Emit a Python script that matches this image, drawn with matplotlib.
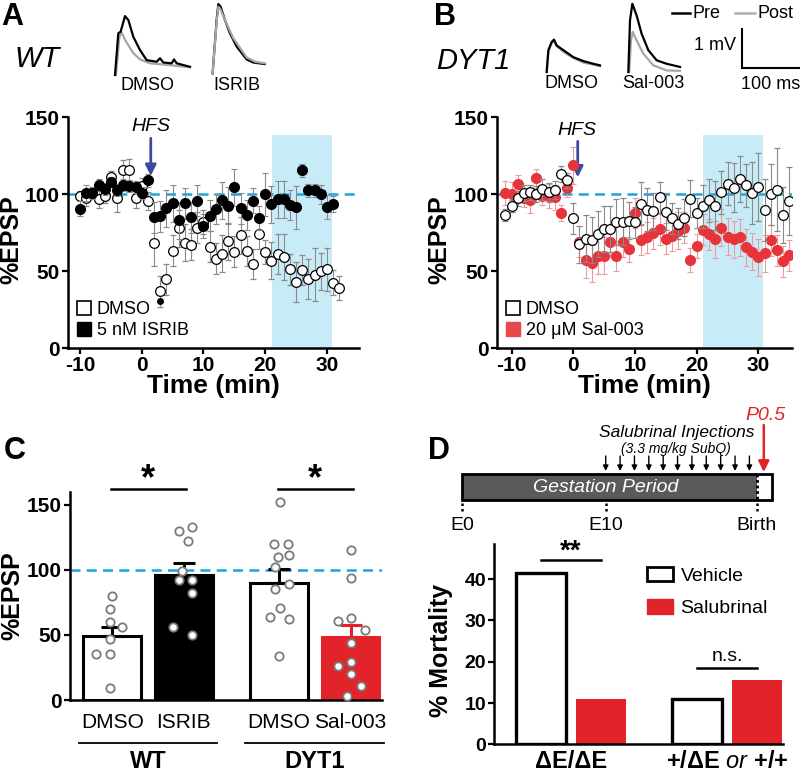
import numpy as np
import matplotlib.pyplot as plt
from matplotlib.lines import Line2D
from matplotlib.patches import Patch, Rectangle

plt.rcParams['font.family'] = ['Liberation Sans', 'DejaVu Sans']
plt.rcParams['axes.unicode_minus'] = False
plt.rcParams['mathtext.fontset'] = 'custom'
plt.rcParams['mathtext.rm'] = 'Liberation Sans'
plt.rcParams['mathtext.it'] = 'Liberation Sans:italic'
plt.rcParams['mathtext.bf'] = 'Liberation Sans:bold'

# ---------------- data ----------------
# Panel A (WT): time course, %EPSP
a_dmso_t = np.arange(-10, 33)
a_dmso_v = [98.8, 97.1, 100.6, 96.7, 99, 111, 97.1, 115.3, 115.7, 97.1,
            105.3, 95.4, 68.5, 36.8, 44.6, 63.3, 77.6, 68.5, 67.2, 78,
            81.9, 65.9, 58.1, 61.1, 69.4, 62.6, 73.3, 63, 54.6, 74.1,
            62.4, 56.8, 61.1, 59, 51.1, 42.9, 50.7, 44.6, 47.7, 49.8,
            51.1, 42.5, 39]
a_dmso_err = [3, 5, 4, 6, 5, 4, 9, 7, 7, 6, 5, 6, 15, 10, 10, 10, 12, 12, 10, 10,
              8, 10, 10, 12, 12, 10, 12, 10, 10, 10, 8, 12, 13, 15, 10, 13, 10, 13,
              17, 12, 14, 8, 8]
a_isrib_t = np.arange(-10, 32)
a_isrib_v = [90.4, 100.6, 100.6, 105.8, 103.2, 108, 102.7, 105.8, 105.3, 104.5,
             100.6, 108.8, 85, 85.4, 90.6, 94, 82.8, 94, 85, 95.6,
             79.3, 85.8, 90.2, 96, 92.3, 104.3, 90.8, 86.3, 95.6, 84.3,
             99.7, 93.4, 96.7, 96.7, 92.8, 91.5, 115.3, 102.3, 102.3, 99.7,
             91.5, 93.6]
a_isrib_err = [5, 5, 4, 4, 4, 3, 4, 4, 4, 4, 4, 4, 10, 10, 12, 12, 12, 10, 10, 10,
               8, 10, 10, 12, 12, 12, 10, 10, 8, 8, 14, 12, 12, 12, 10, 14, 4, 4,
               4, 6, 8, 5]
a_isrib_extra_t = [3]
a_isrib_extra_v = [30.5]

# Panel B (DYT1)
b_t = np.arange(-11, 36)
b_sal_v = [100.6, 100, 106.6, 97.3, 95.8, 110.1, 98.8, 98.8, 97.8, 87.6, 103.8, 118.6,
           69.1, 57.2, 55.1, 59.8, 59.8, 69.1, 59.8, 69.1, 64.1, 87.6,
           70.2, 72, 74.6, 77.2, 71.1, 72.9, 76.1, 78.2, 57.2, 66.3,
           76.7, 73.9, 70.6, 78.2, 72.4, 70.6, 72, 65.5, 62.4, 58.8,
           61.6, 69.9, 63.4, 56.2, 60.3]
b_sal_err = [8, 8, 6, 6, 8, 6, 6, 8, 8, 5, 6, 12, 10, 12, 12, 12, 12, 10, 10, 10, 8, 10,
             10, 10, 10, 10, 10, 10, 12, 10, 8, 8, 10, 10, 12, 12, 12, 12, 12, 12, 12, 12,
             12, 10, 10, 10, 10]
b_dmso_v = [86.3, 92.3, 97.1, 100.6, 101, 100, 103, 101, 102.7, 113, 108.8, 84.3,
            67.4, 71.1, 70.2, 74.1, 77.2, 77.2, 81.9, 82.1, 82.6, 81.5,
            93.6, 89.7, 88.9, 97.8, 88.4, 84.1, 80.6, 84.7, 96.9, 87.6,
            91.9, 95.8, 92.3, 101, 106.6, 104, 109.9, 105.6, 100.6, 104.5,
            89.7, 99.7, 102.7, 86.3, 95.4]
b_dmso_err = [4, 4, 5, 5, 5, 5, 7, 6, 6, 5, 5, 10, 12, 15, 15, 15, 15, 15, 15, 15, 12, 10,
              14, 14, 12, 10, 12, 10, 10, 12, 12, 10, 14, 14, 16, 14, 14, 16, 15, 14, 20, 22,
              20, 20, 27, 18, 22]
shade_window = (21.1, 30.8)

# Traces (ms, mV)
wt_dmso_pre_ms = [0, 5.7, 9.7, 17.2, 22.9, 31.5, 43, 54.5, 71.7, 77.4, 83.1, 97.5, 101.5, 106, 129]
wt_dmso_pre_mv = [0, 1.07, 1.11, 1.51, 1.41, 0.98, 0.64, 0.38, 0.34, 0.43, 0.32, 0.30, 0.40, 0.30, 0.21]
wt_dmso_post_ms = [1.7, 7.5, 11.5, 17.2, 31.5, 43, 60.2, 88.9, 129]
wt_dmso_post_mv = [0, 0.98, 1.09, 0.90, 0.56, 0.40, 0.30, 0.26, 0.20]
wt_isrib_pre_ms = [1.7, 8.6, 11.5, 15.5, 22.9, 31.5, 43, 60.2, 71.7, 91.7]
wt_isrib_pre_mv = [0.04, 1.41, 1.82, 1.75, 1.41, 1.07, 0.73, 0.40, 0.32, 0.28]
wt_isrib_post_ms = [1.7, 8.6, 11.5, 15.5, 22.9, 37, 60.2, 75, 91.7]
wt_isrib_post_mv = [0.04, 1.35, 1.75, 1.68, 1.41, 0.95, 0.45, 0.34, 0.30]
dyt_dmso_pre_ms = [0, 2.9, 8.6, 12.6, 17.2, 28.7, 45.9, 63.1, 80.3, 91.7]
dyt_dmso_pre_mv = [0, 0.56, 0.77, 0.83, 0.68, 0.56, 0.38, 0.28, 0.21, 0.17]
dyt_dmso_post_mv = [0, 0.52, 0.74, 0.80, 0.66, 0.52, 0.36, 0.24, 0.19, 0.15]
dyt_sal_pre_ms = [0, 2.9, 6.9, 14.3, 22.9, 34.4, 48.7, 66, 88.9]
dyt_sal_pre_mv = [0, 1.32, 1.75, 1.45, 0.98, 0.56, 0.30, 0.21, 0.13]
dyt_sal_post_ms = [1.7, 4.6, 7.5, 14.3, 25.8, 43, 66, 88.9]
dyt_sal_post_mv = [0, 0.81, 1.03, 0.81, 0.47, 0.17, 0.04, 0.03]

# Panel C: bars with individual slices
c_labels = ['DMSO', 'ISRIB', 'DMSO', 'Sal-003']
c_groups = ['WT', 'DYT1']
c_means = [49.5, 96.2, 89.8, 48.5]
c_sem = [6.5, 8.8, 11.2, 8.9]
c_pts = [[80, 70, 60, 56, 47, 35, 35, 9],
         [130, 133, 122, 99, 92, 92, 82, 56, 50],
         [152, 120, 120, 110, 111, 102, 85, 89, 64, 71, 62, 34],
         [115, 94, 61, 63, 54, 44, 26, 29, 20, 11, 3]]
c_jit = [[0, -0.03, -0.03, 0.14, -0.03, -0.22, -0.03, -0.03],
         [-0.07, 0.12, 0.06, -0.02, -0.06, 0.12, 0.12, -0.15, 0.12],
         [0.01, -0.07, 0.13, -0.01, 0.14, -0.05, -0.05, 0.14, -0.12, 0.01, 0.14, 0],
         [0.01, 0.01, -0.18, 0.01, 0.2, 0.01, -0.18, 0.01, 0.01, 0.14, -0.05]]

# Panel D: mortality
d_groups = ['ΔE/ΔE', r'$\mathbf{{+}/ΔE}\ \mathit{or}\ \mathbf{{+}/{+}}$']
d_vehicle = [41.4, 10.9]
d_salubrinal = [10.9, 15.6]
inj_days = [10, 11, 12, 13, 14, 15, 16, 17, 18, 19, 20]
timeline_marks = [0, 10, 20.5]
timeline_labels = ['E0', 'E10', 'Birth']
birth_day = 20.5
p05_day = 21.0

# ---------------- style ----------------
RED = '#e3232a'
RED_PT = '#e6343a'
RED_ERR = '#eb9ca0'
BLUE_DASH = '#1fa3dc'
SHADE = '#c8ebf8'
ARROW = '#3a4b9f'
GRAY_ERR = '#8a8a8a'

W, H = 800, 772
fig = plt.figure(figsize=(8, 7.72), dpi=100)


def add_ax(l, t, r, b):
    return fig.add_axes([l / W, 1 - b / H, (r - l) / W, (b - t) / H])


def ftext(x, y, s, **kw):
    fig.text(x / W, 1 - y / H, s, **kw)


def style_axes(ax, fs=15):
    ax.spines[['top', 'right']].set_visible(False)
    for s in ['left', 'bottom']:
        ax.spines[s].set_linewidth(1.8)
    ax.tick_params(width=1.6, length=4, labelsize=fs, pad=2)
    for lab in ax.get_xticklabels() + ax.get_yticklabels():
        lab.set_fontweight('bold')


# ---------------- panels A / B time course ----------------
def time_panel(ax, xlim, ylab_x):
    ax.axvspan(*shade_window, ymax=138 / 150, color=SHADE, lw=0, zorder=0)
    ax.axhline(100, color=BLUE_DASH, lw=1.8, dashes=(4, 2.5), zorder=1)
    ax.set_xlim(*xlim)
    ax.set_ylim(0, 150)
    ax.set_xticks([-10, 0, 10, 20, 30])
    ax.set_yticks([0, 50, 100, 150])
    style_axes(ax)
    ax.set_xlabel('Time (min)', fontsize=19, fontweight='bold', labelpad=-1)
    ax.set_ylabel('%EPSP', fontsize=18, fontweight='bold')
    ax.yaxis.set_label_coords(ylab_x, 0.47)


axA = add_ax(68, 117, 359, 348)
time_panel(axA, (-11.95, 35.2), -0.155)
axA.errorbar(a_dmso_t, a_dmso_v, yerr=a_dmso_err, fmt='o', ms=7, mfc='white', mec='black',
             mew=0.9, ecolor=GRAY_ERR, elinewidth=0.8, capsize=2, capthick=0.8, zorder=3)
axA.errorbar(a_isrib_t, a_isrib_v, yerr=a_isrib_err, fmt='o', ms=7, mfc='black', mec='black',
             ecolor=GRAY_ERR, elinewidth=0.8, capsize=2, capthick=0.8, zorder=4)
axA.plot(a_isrib_extra_t, a_isrib_extra_v, 'o', ms=4, color='black', zorder=4)
axA.annotate('', xy=(1.46, 110), xytext=(1.46, 138),
             arrowprops=dict(arrowstyle='-|>', color=ARROW, lw=2, mutation_scale=16))
axA.text(1.46, 144, 'HFS', fontsize=14, style='italic', ha='center', va='center')
axA.legend([Line2D([], [], marker='s', ls='none', ms=10, mfc='white', mec='black', mew=1.2),
            Line2D([], [], marker='s', ls='none', ms=10, mfc='black', mec='black')],
           ['DMSO', '5 nM ISRIB'], loc='lower left', bbox_to_anchor=(0.0, 0.0), frameon=False,
           fontsize=13, handlelength=0.8, handletextpad=0.3, labelspacing=0.2,
           borderaxespad=0.3, borderpad=0.2)

axB = add_ax(496.7, 117, 792, 348)
time_panel(axB, (-12.4, 35.45), -0.153)
axB.errorbar(b_t, b_sal_v, yerr=b_sal_err, fmt='o', ms=7, mfc=RED_PT, mec=RED_PT,
             ecolor=RED_ERR, elinewidth=0.8, capsize=2, capthick=0.8, zorder=3)
axB.errorbar(b_t, b_dmso_v, yerr=b_dmso_err, fmt='o', ms=7, mfc='white', mec='black',
             mew=0.9, ecolor=GRAY_ERR, elinewidth=0.8, capsize=2, capthick=0.8, zorder=4)
axB.annotate('', xy=(0.73, 109), xytext=(0.73, 136),
             arrowprops=dict(arrowstyle='-|>', color=ARROW, lw=2, mutation_scale=16))
axB.text(0.6, 141.5, 'HFS', fontsize=14, style='italic', ha='center', va='center')
axB.legend([Line2D([], [], marker='s', ls='none', ms=10, mfc='white', mec='black', mew=1.2),
            Line2D([], [], marker='s', ls='none', ms=10, mfc='#e8474c', mec='#e8474c')],
           ['DMSO', '20 μM Sal-003'], loc='lower left', bbox_to_anchor=(0.0, 0.0), frameon=False,
           fontsize=13, handlelength=0.8, handletextpad=0.3, labelspacing=0.2,
           borderaxespad=0.3, borderpad=0.2)

# ---------------- traces ----------------
MS_PER_PX = 1.72
MV_PX = 39.0
trA = add_ax(100, 0, 300, 80)
trA.set_xlim(0, 200 * MS_PER_PX)
trA.set_ylim(-5 / MV_PX, 75 / MV_PX)
trA.axis('off')
off1, off2 = 25.8, 192.0
trA.plot(np.add(wt_dmso_post_ms, off1), wt_dmso_post_mv, color='#a6a6a6', lw=1.6)
trA.plot(np.add(wt_dmso_pre_ms, off1), wt_dmso_pre_mv, color='black', lw=1.6)
trA.plot(np.add(wt_isrib_pre_ms, off2), wt_isrib_pre_mv, color='black', lw=1.6)
trA.plot(np.add(wt_isrib_post_ms, off2), wt_isrib_post_mv, color='#a6a6a6', lw=1.6)

trB = add_ax(540, 0, 800, 90)
trB.set_xlim(0, 260 * MS_PER_PX)
trB.set_ylim(-18 / MV_PX, 72 / MV_PX)
trB.axis('off')
off1, off2 = 11.5, 151.9
trB.plot(np.add(dyt_dmso_pre_ms, off1), dyt_dmso_post_mv, color='#a6a6a6', lw=1.6)
trB.plot(np.add(dyt_dmso_pre_ms, off1), dyt_dmso_pre_mv, color='black', lw=1.6)
trB.plot(np.add(dyt_sal_post_ms, off2), dyt_sal_post_mv, color='#a6a6a6', lw=1.6)
trB.plot(np.add(dyt_sal_pre_ms, off2), dyt_sal_pre_mv, color='black', lw=1.6)
# scale bar: 1 mV / 100 ms
trB.plot([347, 347, 447], [1.1, 0.1, 0.1], color='black', lw=1.5, clip_on=False,
         solid_joinstyle='miter')
trB.text(337, 0.69, '1 mV', fontsize=13, ha='right', va='center')
trB.text(397, -0.33, '100 ms', fontsize=13, ha='center', va='center')
trB.plot([227, 258], [1.51, 1.51], color='black', lw=1.8, clip_on=False)
trB.text(262, 1.51, 'Pre', fontsize=13, ha='left', va='center')
trB.plot([335, 370], [1.51, 1.51], color='#b0b0b0', lw=1.8, clip_on=False)
trB.text(374, 1.51, 'Post', fontsize=13, ha='left', va='center')

ftext(1, 2, 'A', fontsize=22, fontweight='bold', va='top')
ftext(434, 2, 'B', fontsize=22, fontweight='bold', va='top')
ftext(4, 436, 'C', fontsize=22, fontweight='bold', va='top')
ftext(428, 436, 'D', fontsize=22, fontweight='bold', va='top')
ftext(37, 59, 'WT', fontsize=21, style='italic', ha='center', va='center')
ftext(473, 61, 'DYT1', fontsize=21, style='italic', ha='center', va='center')
ftext(147, 85, 'DMSO', fontsize=13, ha='center', va='center')
ftext(237, 85, 'ISRIB', fontsize=13, ha='center', va='center')
ftext(572, 84, 'DMSO', fontsize=13, ha='center', va='center')
ftext(653, 84, 'Sal-003', fontsize=13, ha='center', va='center')

# ---------------- panel C ----------------
axC = add_ax(70, 491.7, 382, 700)
c_pos = [0, 1, 2.33, 3.33]
c_fill = ['white', 'black', 'white', RED]
c_edge = ['black', 'black', 'black', RED]
c_errc = ['black', 'black', 'black', RED]
axC.axhline(100, color=BLUE_DASH, lw=1.8, dashes=(4, 2.5), zorder=1)
for i in range(4):
    axC.bar(c_pos[i], c_means[i], width=0.81, color=c_fill[i], edgecolor=c_edge[i],
            linewidth=2.2, zorder=2)
    axC.errorbar(c_pos[i], c_means[i], yerr=[[0], [c_sem[i]]], color=c_errc[i],
                 elinewidth=2.2, capsize=8, capthick=2.2, zorder=3)
    axC.plot(np.add(c_pos[i], c_jit[i]), c_pts[i], 'o', ms=6, mfc='white', mec='#7a7a7a',
             mew=1.3, zorder=4, clip_on=False)
axC.set_xlim(-0.59, 3.77)
axC.set_ylim(0, 160)
axC.set_yticks([0, 50, 100, 150])
axC.set_xticks(c_pos)
axC.set_xticklabels(c_labels, fontsize=15)
style_axes(axC)
axC.tick_params(axis='x', length=0, pad=9, labelsize=15)
for lab in axC.get_xticklabels():
    lab.set_fontweight('normal')
axC.set_ylabel('%EPSP', fontsize=18, fontweight='bold')
axC.yaxis.set_label_coords(-0.145, 0.5)
for a, b in [(0, 1), (2, 3)]:
    axC.plot([c_pos[a] - 0.02, c_pos[b] + 0.03], [162, 162], color='black', lw=1.8, clip_on=False)
    axC.text((c_pos[a] + c_pos[b]) / 2, 169, '*', fontsize=26, fontweight='bold',
             ha='center', va='center', clip_on=False)
for gi, (a, b) in enumerate([(0, 1), (2, 3)]):
    axC.plot([c_pos[a] - 0.47, c_pos[b] + 0.47], [-32.7, -32.7], color='black', lw=1.3,
             clip_on=False)
    axC.text((c_pos[a] + c_pos[b]) / 2, -47, c_groups[gi], fontsize=17, fontweight='bold',
             ha='center', va='center')

# ---------------- panel D ----------------
tl = add_ax(440, 400, 800, 535)
tl.set_xlim(-1.53, 23.52)
tl.set_ylim(535, 400)
tl.axis('off')
tl.add_patch(Rectangle((0, 474), birth_day, 26, facecolor='#5a5a5a', edgecolor='none'))
tl.add_patch(Rectangle((0, 474), 21.56, 26, fill=False, edgecolor='black', lw=2))
tl.plot([birth_day, birth_day], [474, 500], color='black', lw=2, ls=(0, (1, 1)))
tl.text(10, 488, 'Gestation Period', color='white', fontsize=14, style='italic',
        ha='center', va='center')
for d, lab in zip(timeline_marks, timeline_labels):
    tl.plot([d, d], [503, 513], color='black', lw=1.8, ls=(0, (1, 1.2)))
    tl.text(d, 526, lab, fontsize=14, ha='center', va='center')
for d in inj_days:
    tl.annotate('', xy=(d, 471), xytext=(d, 456),
                arrowprops=dict(arrowstyle='-|>', color='black', lw=1.0, mutation_scale=8,
                                shrinkA=0, shrinkB=0))
tl.text(14.94, 432, 'Salubrinal Injections', fontsize=12.5, style='italic',
        ha='center', va='center')
tl.text(14.9, 449, '(3.3 mg/kg SubQ)', fontsize=10, style='italic', ha='center', va='center')
tl.text(21.09, 415, 'P0.5', fontsize=14, style='italic', color=RED, ha='center', va='center')
tl.annotate('', xy=(p05_day, 472), xytext=(p05_day, 425),
            arrowprops=dict(arrowstyle='-|>', color=RED, lw=1.8, mutation_scale=16,
                            shrinkA=0, shrinkB=0))

axD = add_ax(494.3, 544, 783, 744.3)
d_pos = np.array([0, 2.6])
axD.bar(d_pos, d_vehicle, width=0.83, color='white', edgecolor='black', linewidth=2.4)
axD.bar(d_pos + 1, d_salubrinal, width=0.83, color=RED, edgecolor=RED, linewidth=0)
axD.set_xlim(-0.78, 4.03)
axD.set_ylim(0, 48.5)
axD.set_yticks([0, 10, 20, 30, 40])
axD.set_xticks([])
style_axes(axD, fs=14)
axD.set_ylabel('% Mortality', fontsize=18, fontweight='bold')
axD.yaxis.set_label_coords(-0.143, 0.47)
axD.plot([0, 1], [44.6, 44.6], color='black', lw=1.8, clip_on=False)
axD.text(0.5, 46.6, '**', fontsize=20, fontweight='bold', ha='center', va='center')
axD.plot([2.6, 3.6], [18.4, 18.4], color='black', lw=1.8)
axD.text(3.1, 21.3, 'n.s.', fontsize=14, ha='center', va='center')
axD.text(0.5, -4.2, d_groups[0], fontsize=17, fontweight='bold', ha='center', va='center')
axD.text(3.1, -4.2, d_groups[1], fontsize=17, ha='center', va='center')
axD.legend([Patch(facecolor='white', edgecolor='black', lw=2),
            Patch(facecolor=RED, edgecolor=RED)], ['Vehicle', 'Salubrinal'],
           loc='upper left', bbox_to_anchor=(0.47, 0.975), frameon=False, fontsize=14,
           handlelength=1.3, handleheight=0.8, handletextpad=0.4, labelspacing=0.75)

fig.savefig('out.png', dpi=100)
